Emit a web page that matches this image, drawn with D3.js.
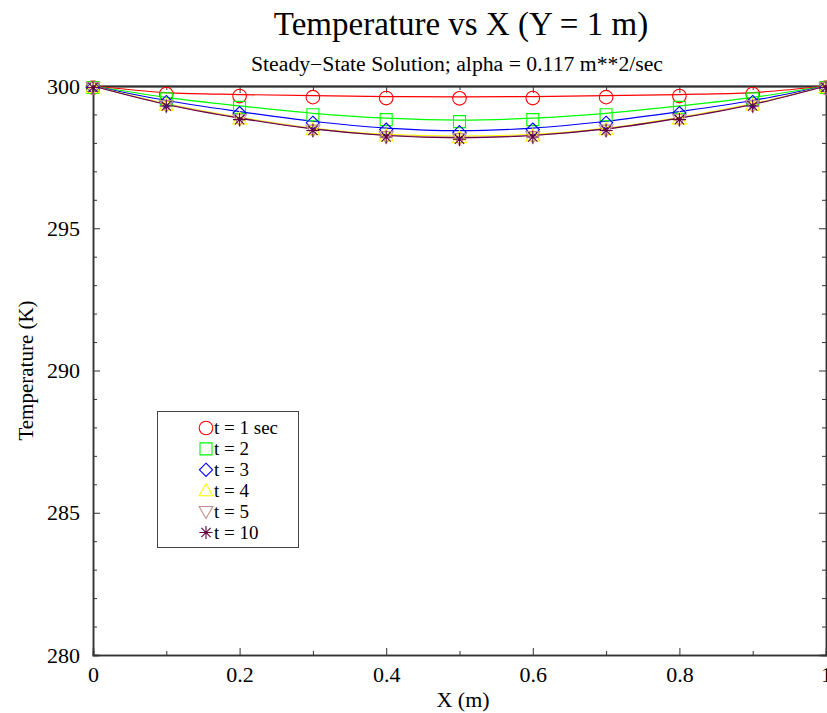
<!DOCTYPE html>
<html><head><meta charset="utf-8">
<script src="https://cdn.jsdelivr.net/npm/d3@7"></script>
<style>body{margin:0;background:#fff}svg{display:block}text{font-family:"Liberation Serif","Times New Roman",serif;fill:#000}</style>
</head><body>
<script>
const xValues = [0, 0.1, 0.2, 0.3, 0.4, 0.5, 0.6, 0.7, 0.8, 0.9, 1.0];
const t1  = [300, 299.77, 299.70, 299.66, 299.63, 299.62, 299.63, 299.66, 299.70, 299.77, 300];
const t2  = [300, 299.60, 299.30, 299.04, 298.87, 298.80, 298.87, 299.04, 299.30, 299.60, 300];
const t3  = [300, 299.49, 299.10, 298.76, 298.52, 298.43, 298.52, 298.76, 299.10, 299.49, 300];
const t4  = [300, 299.38, 298.90, 298.52, 298.30, 298.24, 298.30, 298.52, 298.90, 299.38, 300];
const t5  = [300, 299.36, 298.88, 298.50, 298.27, 298.20, 298.27, 298.50, 298.88, 299.36, 300];
const t10 = [300, 299.35, 298.87, 298.49, 298.26, 298.18, 298.26, 298.49, 298.87, 299.35, 300];
const seriesNames = ["t = 1 sec", "t = 2", "t = 3", "t = 4", "t = 5", "t = 10"];
const seriesColors = ["#ff0000", "#00ff00", "#0000ff", "#ffff00", "#c09090", "#660044"];
const seriesSymbols = ["circle", "square", "diamond", "triangle", "triangledown", "star"];
const seriesData = [t1, t2, t3, t4, t5, t10];
const xTickLabels = ["0", "0.2", "0.4", "0.6", "0.8", "1"];
const yTickLabels = ["280", "285", "290", "295", "300"];
const titleText = "Temperature vs X (Y = 1 m)";
const subtitleText = "Steady\u2212State Solution; alpha = 0.117 m**2/sec";

const W = 827, H = 713;
const svg = d3.select("body").append("svg").attr("width", W).attr("height", H);
const x = d3.scaleLinear().domain([0, 1]).range([93, 826]);
const y = d3.scaleLinear().domain([280, 300]).range([655, 86]);

// title
svg.append("text").attr("x", 461).attr("y", 35).attr("text-anchor", "middle")
  .style("font-size", "33px").text(titleText);
svg.append("text").attr("x", 457).attr("y", 71).attr("text-anchor", "middle")
  .style("font-size", "20px").attr("textLength", 412).attr("lengthAdjust", "spacingAndGlyphs").text(subtitleText);

// axes
const axisColor = "#333";
const xMajor = xTickLabels.map(Number);
const xMinor = d3.range(0.1, 1, 0.2);
const yMajor = yTickLabels.map(Number);
const yMinor = d3.range(281, 300, 1).filter(v => v % 5 !== 0);

const g = svg.append("g");
g.append("g").attr("transform", `translate(0,${y(280)})`)
  .call(d3.axisBottom(x).tickValues(xMajor).tickSize(-7).tickPadding(11).tickFormat((d, i) => xTickLabels[i]));
g.append("g").attr("transform", `translate(0,${y(280)})`)
  .call(d3.axisBottom(x).tickValues(xMinor).tickSize(-4).tickFormat(""));
const axTop = g.append("g").attr("transform", `translate(0,${y(300)})`)
  .call(d3.axisTop(x).tickValues(xMajor).tickSize(-7).tickFormat(""));
g.append("g").attr("transform", `translate(0,${y(300)})`)
  .call(d3.axisTop(x).tickValues(xMinor).tickSize(-4).tickFormat(""));
g.append("g").attr("transform", `translate(${x(0)},0)`)
  .call(d3.axisLeft(y).tickValues(yMajor).tickSize(-7).tickPadding(13).tickFormat((d, i) => yTickLabels[i]));
g.append("g").attr("transform", `translate(${x(0)},0)`)
  .call(d3.axisLeft(y).tickValues(yMinor).tickSize(-4).tickFormat(""));
g.append("g").attr("transform", `translate(${x(1)},0)`)
  .call(d3.axisRight(y).tickValues(yMajor).tickSize(-7).tickFormat(""));
g.append("g").attr("transform", `translate(${x(1)},0)`)
  .call(d3.axisRight(y).tickValues(yMinor).tickSize(-4).tickFormat(""));

g.selectAll(".domain").attr("stroke", axisColor).attr("stroke-width", 1.5);
g.selectAll(".tick line").attr("stroke", axisColor).attr("stroke-width", 1);
g.selectAll(".tick text").style("font-size", "22px").style("font-family", "Liberation Serif, serif").attr("fill", "#000");
axTop.select(".domain").attr("stroke", "#222").attr("stroke-width", 2);

// axis labels
svg.append("text").attr("x", 463).attr("y", 707).attr("text-anchor", "middle")
  .style("font-size", "22px").text("X (m)");
svg.append("text").attr("transform", `translate(33,${(y(280) + y(300)) / 2}) rotate(-90)`)
  .attr("text-anchor", "middle").style("font-size", "21px").text("Temperature (K)");

// clip
svg.append("clipPath").attr("id", "clip").append("rect")
  .attr("x", x(0) - 10).attr("y", y(300) - 10).attr("width", x(1) - x(0) + 20).attr("height", y(280) - y(300) + 20);

const line = d3.line().x((d, i) => x(xValues[i])).y(d => y(d)).curve(d3.curveMonotoneX);

function symbolPath(kind, s) {
  switch (kind) {
    case "circle": { const p = d3.path(); p.arc(0, 0, s, 0, 2 * Math.PI); return p.toString(); }
    case "square": return `M${-s},${-s}H${s}V${s}H${-s}Z`;
    case "diamond": return `M0,${-s * 1.1}L${s * 1.1},0L0,${s * 1.1}L${-s * 1.1},0Z`;
    case "triangle": return `M0,${-s * 1.15}L${s * 1.15},${s * 0.85}L${-s * 1.15},${s * 0.85}Z`;
    case "triangledown": return `M0,${s * 1.15}L${s * 1.15},${-s * 0.85}L${-s * 1.15},${-s * 0.85}Z`;
    case "star": {
      let d = "";
      for (let k = 0; k < 4; k++) {
        const a = k * Math.PI / 4;
        const dx = Math.sin(a) * s * 1.1, dy = Math.cos(a) * s * 1.1;
        d += `M${-dx},${-dy}L${dx},${dy}`;
      }
      return d;
    }
  }
}

const plot = svg.append("g").attr("clip-path", "url(#clip)");
seriesData.forEach((vals, si) => {
  plot.append("path").datum(vals).attr("d", line).attr("fill", "none")
    .attr("stroke", seriesColors[si]).attr("stroke-width", 1.2);
});
seriesData.forEach((vals, si) => {
  const size = seriesSymbols[si] === "circle" ? 6.8 : 6;
  plot.selectAll(null).data(vals).enter().append("path")
    .attr("transform", (d, i) => `translate(${x(xValues[i])},${y(d) + 1.5})`)
    .attr("d", symbolPath(seriesSymbols[si], size))
    .attr("fill", "none").attr("stroke", seriesColors[si]).attr("stroke-width", 1.1);
});

// legend
const lg = svg.append("g");
lg.append("rect").attr("x", 157.5).attr("y", 411.5).attr("width", 141).attr("height", 136)
  .attr("fill", "#fff").attr("stroke", "#444").attr("stroke-width", 1);
seriesNames.forEach((name, i) => {
  const cy = 428 + i * 20.9;
  lg.append("path").attr("transform", `translate(206,${cy})`)
    .attr("d", symbolPath(seriesSymbols[i], seriesSymbols[i] === "circle" ? 6.8 : 6))
    .attr("fill", "none").attr("stroke", seriesColors[i]).attr("stroke-width", 1.1);
  if (seriesSymbols[i] === "star") lg.append("circle").attr("cx", 206).attr("cy", cy).attr("r", 1.6).attr("fill", seriesColors[i]);
  lg.append("text").attr("x", 214).attr("y", cy + 6).style("font-size", "19px").text(name);
});
</script>
</body></html>
